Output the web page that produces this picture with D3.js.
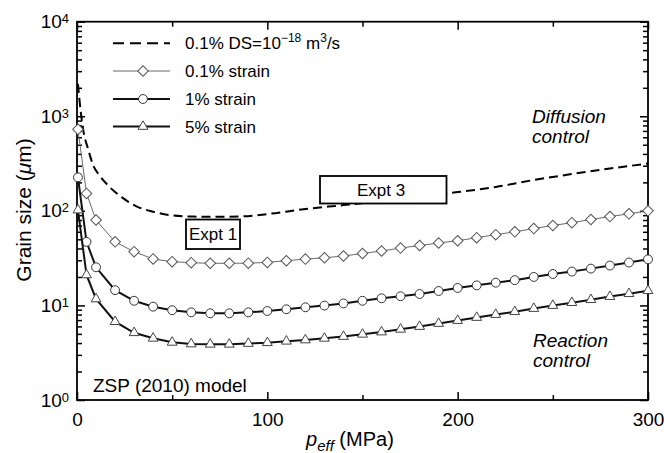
<!DOCTYPE html>
<html>
<head>
<meta charset="utf-8">
<script src="https://cdn.jsdelivr.net/npm/d3@7"></script>
<style>
  body { margin: 0; background: #fff; }
  svg { display: block; font-family: "Liberation Sans", Arial, Helvetica, sans-serif; }
</style>
</head>
<body>
<svg id="chart" width="664" height="453"></svg>
<script>
// Effective pressure (MPa) at which the model grain sizes are marked
const pressure = [0.5, 5, 10, 20, 30, 40, 50, 60, 70, 80, 90, 100, 110, 120, 130, 140, 150,
  160, 170, 180, 190, 200, 210, 220, 230, 240, 250, 260, 270, 280, 290, 300];

// Grain size (µm) for each strain level
const strain01 = [727, 153, 80, 47, 37, 31, 29, 28.3, 27.9, 27.9, 28.0, 28.5, 29.7, 30.9, 31.9, 33.3,
  35.4, 37.6, 40.4, 43.0, 45.7, 48.3, 52, 56, 60, 65, 70, 75, 81, 87, 93, 100];
const strain1 = [226, 47, 25.3, 14.5, 11.2, 9.7, 8.9, 8.45, 8.25, 8.25, 8.45, 8.73, 9.1, 9.55, 9.97, 10.5,
  11.2, 11.9, 12.5, 13.2, 14.2, 15.3, 16.3, 17.4, 18.5, 20.0, 21.5, 22.8, 24.5, 26.4, 28.4, 30.7];
const strain5 = [102, 21, 11.7, 6.73, 5.14, 4.49, 4.07, 3.91, 3.88, 3.88, 3.96, 4.03, 4.18, 4.31, 4.49, 4.69,
  4.95, 5.23, 5.59, 5.98, 6.44, 6.92, 7.45, 8.01, 8.58, 9.27, 9.97, 10.7, 11.5, 12.4, 13.3, 14.3];

// 0.1% strain curve with grain-boundary diffusion DS = 1e-18 m^3/s
const dsPressure = [0.5, 2, 3.3, 6, 8.6, 12, 17, 24, 31, 40, 49, 61, 73, 87, 101, 119, 140, 160,
  180, 200, 220, 240, 260, 280, 300];
const dsGrain = [2200, 1100, 715, 439, 300, 235, 180, 137, 112, 98, 90, 87, 86.5, 87.5, 93, 104, 115, 127,
  142, 158, 179, 212, 245, 280, 316];

// Axis ticks
const xMajorTicks = [0, 100, 200, 300];
const xMinorTicks = [50, 150, 250];
const yExponents = [0, 1, 2, 3, 4];

// Legend entries
const legendLabels = ["0.1% strain", "1% strain", "5% strain"];

const svg = d3.select("#chart");
const plot = { left: 77, right: 648, top: 21.7, bottom: 400 };

const x = d3.scaleLinear().domain([0, 300]).range([plot.left, plot.right]);
const y = d3.scaleLog().domain([1, 10000]).range([plot.bottom, plot.top]);

const yMajor = yExponents.map(e => Math.pow(10, e));
const yMinor = [];
yExponents.slice(0, -1).forEach(e => {
  for (let k = 2; k <= 9; k++) yMinor.push(k * Math.pow(10, e));
});

// ---- axes (ticks point inward on all four sides) ----
function styleAxis(g) {
  g.select(".domain").remove();
  g.selectAll(".tick line").attr("stroke", "#000").attr("stroke-width", 1.5);
}

// bottom
svg.append("g").attr("transform", `translate(0,${plot.bottom})`)
  .call(d3.axisBottom(x).tickValues(xMajorTicks).tickSize(-8).tickPadding(13).tickFormat(d3.format("d")))
  .call(styleAxis)
  .call(g => g.selectAll(".tick text").attr("font-size", 19).attr("fill", "#000")
    .attr("font-family", "Liberation Sans, Arial, sans-serif"));
svg.append("g").attr("transform", `translate(0,${plot.bottom})`)
  .call(d3.axisBottom(x).tickValues(xMinorTicks).tickSize(-5).tickFormat(""))
  .call(styleAxis);

// top
svg.append("g").attr("transform", `translate(0,${plot.top})`)
  .call(d3.axisTop(x).tickValues(xMajorTicks).tickSize(-8).tickFormat(""))
  .call(styleAxis);
svg.append("g").attr("transform", `translate(0,${plot.top})`)
  .call(d3.axisTop(x).tickValues(xMinorTicks).tickSize(-5).tickFormat(""))
  .call(styleAxis);

// left, with 10^n labels
svg.append("g").attr("transform", `translate(${plot.left},0)`)
  .call(d3.axisLeft(y).tickValues(yMajor).tickSize(-8).tickPadding(8).tickFormat(() => "10"))
  .call(styleAxis)
  .call(g => {
    const t = g.selectAll(".tick text").attr("font-size", 19).attr("fill", "#000")
      .attr("font-family", "Liberation Sans, Arial, sans-serif");
    t.append("tspan").attr("dy", "-0.38em").attr("font-size", 13).text(d => Math.round(Math.log10(d)));
  });
svg.append("g").attr("transform", `translate(${plot.left},0)`)
  .call(d3.axisLeft(y).tickValues(yMinor).tickSize(-5).tickFormat(""))
  .call(styleAxis);

// right
svg.append("g").attr("transform", `translate(${plot.right},0)`)
  .call(d3.axisRight(y).tickValues(yMajor).tickSize(-8).tickFormat(""))
  .call(styleAxis);
svg.append("g").attr("transform", `translate(${plot.right},0)`)
  .call(d3.axisRight(y).tickValues(yMinor).tickSize(-5).tickFormat(""))
  .call(styleAxis);

// frame
svg.append("rect")
  .attr("x", plot.left).attr("y", plot.top)
  .attr("width", plot.right - plot.left).attr("height", plot.bottom - plot.top)
  .attr("fill", "none").attr("stroke", "#000").attr("stroke-width", 1.8);

// ---- axis titles ----
const xTitle = svg.append("text").attr("x", 306).attr("y", 446).attr("font-size", 20).attr("fill", "#000");
xTitle.append("tspan").attr("font-style", "italic").text("p");
xTitle.append("tspan").attr("font-style", "italic").attr("font-size", 15).attr("dy", 5).text("eff");
xTitle.append("tspan").attr("dy", -5).text(" (MPa)");

const yTitle = svg.append("text")
  .attr("transform", "translate(31,210) rotate(-90)")
  .attr("text-anchor", "middle").attr("font-size", 21).attr("fill", "#000");
yTitle.append("tspan").text("Grain size (");
yTitle.append("tspan").attr("font-style", "italic").text("μ");
yTitle.append("tspan").text("m)");

// ---- data ----
const series = [
  { name: "0.1% strain", values: strain01, line: "#6a6a6a", width: 1, marker: "diamond", mstroke: "#555" },
  { name: "1% strain", values: strain1, line: "#111", width: 2, marker: "circle", mstroke: "#333" },
  { name: "5% strain", values: strain5, line: "#111", width: 2, marker: "triangle", mstroke: "#444" }
];

const markerPath = {
  diamond: d3.symbol(d3.symbolSquare, 56)(),
  circle: d3.symbol(d3.symbolCircle, 62)(),
  triangle: d3.symbol(d3.symbolTriangle, 42)()
};
const markerRotate = { diamond: 45, circle: 0, triangle: 0 };

const line = d3.line().x(d => x(d.p)).y(d => y(d.v));

// dashed diffusion-limited curve
const dsData = dsPressure.map((p, i) => ({ p, v: dsGrain[i] }));
svg.append("path")
  .datum(dsData)
  .attr("d", d3.line().x(d => x(d.p)).y(d => y(d.v)).curve(d3.curveMonotoneX))
  .attr("fill", "none").attr("stroke", "#000").attr("stroke-width", 2)
  .attr("stroke-dasharray", "9,5");

series.forEach(s => {
  const data = pressure.map((p, i) => ({ p, v: s.values[i] }));
  svg.append("path").datum(data)
    .attr("d", line)
    .attr("fill", "none").attr("stroke", s.line).attr("stroke-width", s.width);
  svg.append("g").selectAll("path").data(data).join("path")
    .attr("d", markerPath[s.marker])
    .attr("transform", d => `translate(${x(d.p)},${y(d.v)}) rotate(${markerRotate[s.marker]})`)
    .attr("fill", "#fff").attr("stroke", s.mstroke).attr("stroke-width", 1);
});

// ---- experiment boxes ----
function labelBox(bx, by, bw, bh, tx, ty, label) {
  svg.append("rect").attr("x", bx).attr("y", by).attr("width", bw).attr("height", bh)
    .attr("fill", "#fff").attr("stroke", "#000").attr("stroke-width", 1.8);
  svg.append("text").attr("x", tx).attr("y", ty).attr("text-anchor", "middle")
    .attr("font-size", 17).attr("fill", "#000").text(label);
}
labelBox(186, 219.5, 54, 29.5, 213, 239.5, "Expt 1");
labelBox(320, 176, 126.5, 27.5, 381, 195.5, "Expt 3");

// ---- annotations ----
function italicLines(tx, lines, y0, dy) {
  lines.forEach((t, i) => {
    svg.append("text").attr("x", tx).attr("y", y0 + i * dy).attr("font-size", 19)
      .attr("font-style", "italic").attr("fill", "#000").text(t);
  });
}
italicLines(532, ["Diffusion", "control"], 123, 20);
italicLines(533, ["Reaction", "control"], 346.5, 20);
svg.append("text").attr("x", 93).attr("y", 392).attr("font-size", 19).attr("fill", "#000")
  .text("ZSP (2010) model");

// ---- legend ----
const legend = svg.append("g");
const lgX0 = 113, lgX1 = 170, lgMx = 143, lgTx = 185;
const rows = [43.3, 71, 99, 126.5];

legend.append("line").attr("x1", lgX0).attr("x2", lgX1).attr("y1", rows[0]).attr("y2", rows[0])
  .attr("stroke", "#000").attr("stroke-width", 2).attr("stroke-dasharray", "11,6");
const dsText = legend.append("text").attr("x", lgTx).attr("y", rows[0] + 6).attr("font-size", 17).attr("fill", "#000");
dsText.append("tspan").text("0.1% DS=10");
dsText.append("tspan").attr("dy", -7).attr("font-size", 12).text("−18");
dsText.append("tspan").attr("dy", 7).text(" m");
dsText.append("tspan").attr("dy", -7).attr("font-size", 12).text("3");
dsText.append("tspan").attr("dy", 7).text("/s");

series.forEach((s, i) => {
  const ry = rows[i + 1];
  legend.append("line").attr("x1", lgX0).attr("x2", lgX1).attr("y1", ry).attr("y2", ry)
    .attr("stroke", s.line).attr("stroke-width", s.width);
  legend.append("path").attr("d", markerPath[s.marker])
    .attr("transform", `translate(${lgMx},${ry}) rotate(${markerRotate[s.marker]})`)
    .attr("fill", "#fff").attr("stroke", s.mstroke).attr("stroke-width", 1);
  legend.append("text").attr("x", lgTx).attr("y", ry + 6).attr("font-size", 17).attr("fill", "#000")
    .text(legendLabels[i]);
});
</script>
</body>
</html>
